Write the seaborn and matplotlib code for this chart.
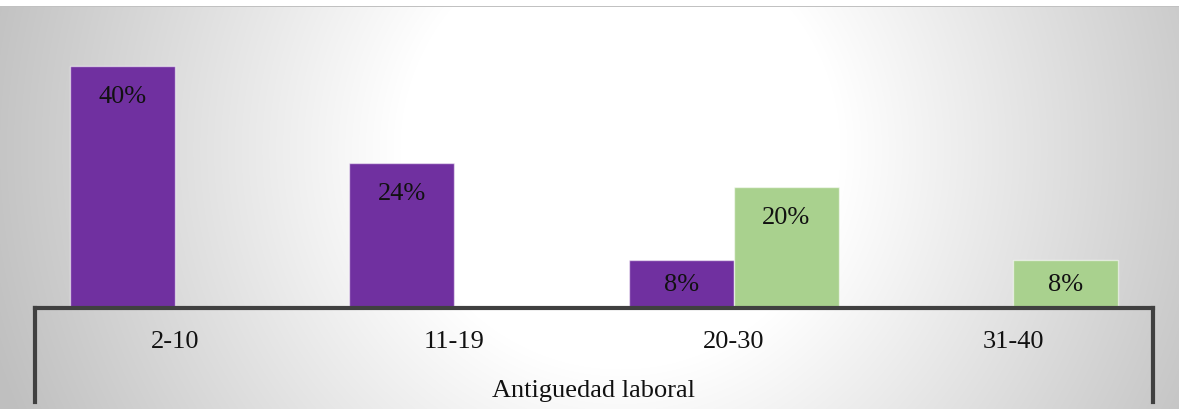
import numpy as np
import pandas as pd
import matplotlib
matplotlib.use("Agg")
import matplotlib.pyplot as plt
import seaborn as sns

# Data: percentage of staff per seniority range, two series
categorias = ["2-10", "11-19", "20-30", "31-40"]
serie_a_cat = ["2-10", "11-19", "20-30"]
serie_a_val = [40, 24, 8]
serie_b_cat = ["20-30", "31-40"]
serie_b_val = [20, 8]
series = ["Serie 1", "Serie 2"]
colores = ["#7030A0", "#A9D18E"]
titulo_eje = "Antiguedad laboral"

df = pd.DataFrame({
    "categoria": serie_a_cat + serie_b_cat,
    "valor": serie_a_val + serie_b_val,
    "serie": [series[0]] * len(serie_a_cat) + [series[1]] * len(serie_b_cat),
})

sns.set_theme(style="white")
plt.rcParams["font.family"] = ["Liberation Serif", "DejaVu Serif"]

W, H, DPI = 1179, 410, 100
fig = plt.figure(figsize=(W / DPI, H / DPI), dpi=DPI)

# Radial grey background
bg_ax = fig.add_axes([0, 0, 1, 1], zorder=0)
yy, xx = np.mgrid[0:H, 0:W]
d = np.hypot(xx - 620.0, yy - 150.0)
t = np.clip((d - 220.0) / 440.0, 0, 1)
g = 1.0 - 0.25 * t
img = np.dstack([g, g, g])
img[:7, :, :] = 1.0
img[7, :, :] = 0.76
bg_ax.imshow(img, extent=(0, W, H, 0), aspect="auto", interpolation="bilinear")
bg_ax.set_xlim(0, W)
bg_ax.set_ylim(H, 0)
bg_ax.axis("off")

# Main plot area
x0, x1 = 35, 1153
y_base, y_top = 309, 37
ax = fig.add_axes([x0 / W, (H - y_base) / H, (x1 - x0) / W, (y_base - y_top) / H], zorder=1)
ax.patch.set_alpha(0)

sns.barplot(data=df, x="categoria", y="valor", hue="serie", order=categorias,
            hue_order=series, palette=colores, width=0.75, dodge=True,
            saturation=1, legend=False, ax=ax,
            edgecolor=(1, 1, 1, 0.55), linewidth=1.0)

ax.set_xlim(-0.5, len(categorias) - 0.5)
ax.set_ylim(0, 45)
ax.set_yticks([])
ax.set_ylabel("")
for s in ["left", "right", "top"]:
    ax.spines[s].set_visible(False)
ax.spines["bottom"].set_color("#404040")
ax.spines["bottom"].set_linewidth(3.0)
ax.spines["bottom"].set_zorder(5)

fs = 19
ax.tick_params(axis="x", length=0, pad=16, labelsize=fs, labelcolor="#111111")
ax.set_xlabel(titulo_eje, fontsize=fs, color="#111111", labelpad=19)

# Outer vertical lines of the category axis
trans = ax.get_xaxis_transform()
depth = (403 - y_base) / (y_base - y_top)
for xv in (-0.5, len(categorias) - 0.5):
    ax.plot([xv, xv], [0, -depth], transform=trans, color="#404040",
            lw=3.0, clip_on=False, solid_capstyle="projecting", zorder=5)

# Value labels inside the bars
px_per_unit = (y_base - y_top) / 45.0
off = 30.0 / px_per_unit
for patch in ax.patches:
    h = patch.get_height()
    if not np.isfinite(h) or h <= 0:
        continue
    yl = max(h - off, h / 2)
    ax.text(patch.get_x() + patch.get_width() / 2, yl, f"{h:.0f}%",
            ha="center", va="center", fontsize=fs, color="#111111", zorder=6)

fig.savefig("out.png", dpi=DPI)
